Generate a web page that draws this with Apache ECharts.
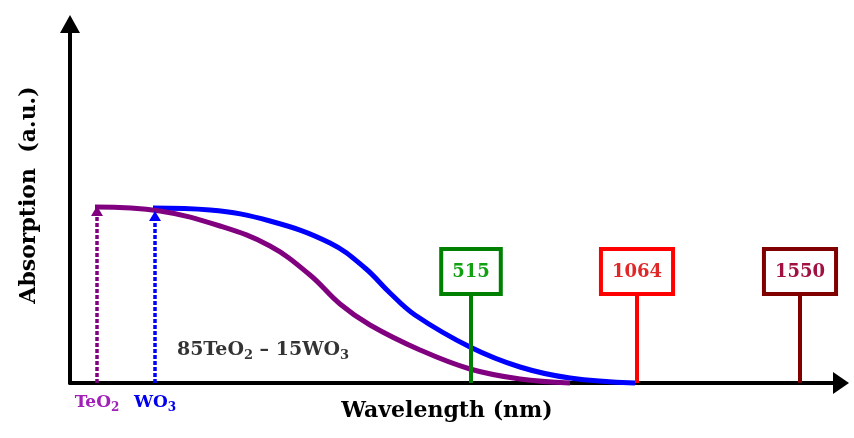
<!DOCTYPE html>
<html>
<head>
<meta charset="utf-8">
<script src="https://cdn.jsdelivr.net/npm/echarts@6/dist/echarts.min.js"></script>
<style>html,body{margin:0;padding:0;background:#fff}#c{width:854px;height:438px}</style>
</head>
<body>
<div id="c"></div>
<script>
// Schematic absorption curves (arbitrary units)
const teo2WoX = [25, 90, 150, 200, 240, 270, 300, 350, 400, 450, 500];
const teo2WoY = [176, 172, 157, 137, 108, 79, 58, 33, 14, 4, 0];
const wo3X = [83, 140, 200, 260, 295, 320, 345, 400, 450, 500, 565];
const wo3Y = [175, 173, 162, 140, 115, 90, 68, 36, 16, 5, 0];
// Band-edge markers (position, arrow height)
const edgeNames = ['TeO2', 'WO3'];
const edgeX = [27, 85];
const edgeTop = [172, 167];
// Laser wavelengths (label, position, stem height)
const laserNames = ['515', '1064', '1550'];
const laserX = [401, 567, 730];
const laserTop = [91, 91, 91];
const sampleLabelPos = [193, 33];

const serif = 'DejaVu Serif';
const edgeColors = ['#800080', '#0000ff'];
const edgeTextColors = ['#a020b8', '#0000ee'];
const laserColors = ['#008000', '#ff0000', '#800000'];
const laserTextColors = ['#10a010', '#e02828', '#a01040'];

const series = [];
series.push({
  type: 'line', name: 'WO3', data: wo3X.map((x, i) => [x, wo3Y[i]]),
  smooth: 0.4, showSymbol: false, clip: false,
  lineStyle: { color: '#0000ff', width: 5 }, z: 3
});
series.push({
  type: 'line', name: '85TeO2-15WO3', data: teo2WoX.map((x, i) => [x, teo2WoY[i]]),
  smooth: 0.4, showSymbol: false, clip: false,
  lineStyle: { color: '#800080', width: 5 }, z: 4
});
edgeNames.forEach((n, i) => {
  const sub = n === 'TeO2' ? ['TeO', '2'] : ['WO', '3'];
  series.push({
    type: 'line', clip: false, z: 5,
    lineStyle: { color: edgeColors[i], width: 3.5, type: [4, 2] },
    itemStyle: { color: edgeColors[i] },
    data: [
      { value: [edgeX[i], 0], symbol: 'circle', symbolSize: 0,
        label: { show: true, position: 'bottom', distance: 9,
          formatter: '{a|' + sub[0] + '}{s|' + sub[1] + '}',
          rich: {
            a: { fontFamily: serif, fontWeight: 'bold', fontSize: 17, color: edgeTextColors[i] },
            s: { fontFamily: serif, fontWeight: 'bold', fontSize: 12, color: edgeTextColors[i], padding: [10, 0, 0, 0] }
          } } },
      { value: [edgeX[i], edgeTop[i]], symbol: 'triangle', symbolSize: [12, 10] }
    ]
  });
});
laserNames.forEach((n, i) => {
  series.push({
    type: 'line', clip: false, z: 6,
    lineStyle: { color: laserColors[i], width: 4 },
    itemStyle: { color: laserColors[i] },
    data: [
      { value: [laserX[i], 0], symbol: 'none' },
      { value: [laserX[i], laserTop[i]], symbol: 'circle', symbolSize: 0,
        label: { show: true, position: 'top', distance: 0, formatter: n,
          fontFamily: serif, fontWeight: 'bold', fontSize: 18, color: laserTextColors[i],
          backgroundColor: '#fff', borderColor: laserColors[i], borderWidth: 4,
          padding: [12, 9, 11, 9] } }
    ]
  });
});
series.push({
  type: 'scatter', symbolSize: 0, clip: false, z: 7,
  data: [{ value: sampleLabelPos,
    label: { show: true, position: 'inside',
      formatter: '{a|85TeO}{s|2}{a| \u2013 15WO}{s|3}',
      rich: {
        a: { fontFamily: serif, fontWeight: 'bold', fontSize: 19, color: '#000' },
        s: { fontFamily: serif, fontWeight: 'bold', fontSize: 13, color: '#000', padding: [11, 0, 0, 0] }
      } } }]
});

const chart = echarts.init(document.getElementById('c'));
chart.setOption({
  animation: false,
  grid: { left: 70, right: 13, top: 24, bottom: 55 },
  xAxis: {
    type: 'value', min: 0, max: 771,
    name: 'Wavelength (nm)', nameLocation: 'middle', nameGap: 17,
    nameTextStyle: { fontFamily: serif, fontWeight: 'bold', fontSize: 22, color: '#000', padding: [0, 17, 0, 0] },
    axisLine: { show: true, onZero: false, symbol: ['none', 'triangle'], symbolSize: [22, 16], lineStyle: { color: '#000', width: 4 } },
    axisTick: { show: false }, axisLabel: { show: false }, splitLine: { show: false }
  },
  yAxis: {
    type: 'value', min: 0, max: 359,
    name: 'Absorption  (a.u.)', nameLocation: 'middle', nameGap: 30,
    nameTextStyle: { fontFamily: serif, fontWeight: 'bold', fontSize: 22, color: '#000', padding: [0, 0, 0, 17] },
    axisLine: { show: true, onZero: false, symbol: ['none', 'triangle'], symbolSize: [20, 18], lineStyle: { color: '#000', width: 4 } },
    axisTick: { show: false }, axisLabel: { show: false }, splitLine: { show: false }
  },
  series: series
});
</script>
</body>
</html>
